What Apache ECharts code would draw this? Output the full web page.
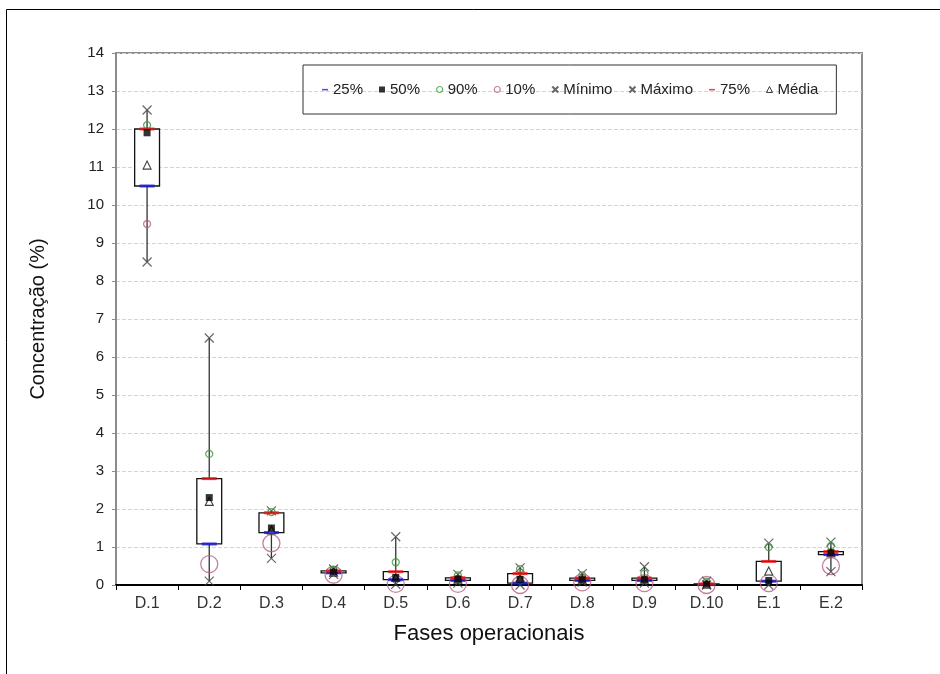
<!DOCTYPE html>
<html>
<head>
<meta charset="utf-8">
<title>Concentração por fase operacional</title>
<script src="https://cdn.jsdelivr.net/npm/echarts@6/dist/echarts.min.js"></script>
<style>
  html, body { margin: 0; padding: 0; background: #ffffff; }
  #chart { width: 940px; height: 674px; }
</style>
</head>
<body>
<div id="chart"></div>
<script>
// categorias (fases) e estatísticas
const categories = ['D.1', 'D.2', 'D.3', 'D.4', 'D.5', 'D.6', 'D.7', 'D.8', 'D.9', 'D.10', 'E.1', 'E.2'];
const minimo = [8.5, 0.1, 0.7, 0.28, 0.02, 0.05, 0.0, 0.08, 0.05, 0.0, 0.0, 0.35];
const p10 = [9.5, 0.55, 1.1, 0.27, 0.03, 0.03, 0.0, 0.07, 0.05, 0.0, 0.05, 0.5];
const p25 = [10.5, 1.08, 1.38, 0.32, 0.14, 0.12, 0.05, 0.12, 0.12, 0.01, 0.1, 0.8];
const p50 = [11.9, 2.3, 1.5, 0.34, 0.2, 0.15, 0.15, 0.14, 0.14, 0.02, 0.12, 0.85];
const p75 = [12.0, 2.8, 1.9, 0.37, 0.35, 0.19, 0.3, 0.18, 0.18, 0.03, 0.62, 0.88];
const p90 = [12.1, 3.45, 1.92, 0.4, 0.6, 0.25, 0.42, 0.25, 0.3, 0.08, 1.0, 1.03];
const maximo = [12.5, 6.5, 1.95, 0.42, 1.27, 0.28, 0.45, 0.3, 0.48, 0.1, 1.1, 1.13];
const media = [11.05, 2.2, 1.45, 0.34, 0.2, 0.15, 0.17, 0.15, 0.15, 0.02, 0.37, 0.85];
const yTicks = { min: 0, max: 14, interval: 1 };

const chart = echarts.init(document.getElementById('chart'));

// caixa (25%-75%) + linha mínimo-máximo
const boxData = categories.map((c, i) => [i, minimo[i], p25[i], p75[i], maximo[i]]);

const FONT = '"Liberation Sans", Arial, sans-serif';
const crossPath = 'path://M0,0L10,10M10,0L0,10';
const dashIcon = 'path://M0,0M10,10M0,4L10,4L10,6.5L0,6.5Z';

const pink = '#b8608c';
const green = '#3c9c3c';

function marker(name, data, symbol, size, style) {
  return {
    name: name,
    type: 'scatter',
    data: data,
    symbol: symbol,
    symbolSize: size,
    itemStyle: style,
    z: 5,
    emphasis: { disabled: true }
  };
}

const option = {
  animation: false,
  backgroundColor: '#ffffff',
  textStyle: { fontFamily: FONT },
  graphic: [{
    type: 'rect',
    shape: { x: 6.5, y: 9.5, width: 1000, height: 1000 },
    style: { fill: 'none', stroke: '#000000', lineWidth: 1 },
    silent: true
  }],
  legend: {
    left: 303,
    top: 65,
    padding: [17, 18, 17, 19],
    itemGap: 16,
    itemWidth: 6,
    itemHeight: 6,
    borderColor: '#333333',
    borderWidth: 1,
    textStyle: { fontSize: 15, color: '#222222', fontFamily: FONT },
    data: [
      { name: '25%', icon: dashIcon },
      { name: '50%', icon: 'rect' },
      { name: '90%', icon: 'circle', itemStyle: { color: 'rgba(0,0,0,0)', borderColor: green, borderWidth: 1.2 } },
      { name: '10%', icon: 'circle', itemStyle: { color: 'rgba(0,0,0,0)', borderColor: pink, borderWidth: 1.2 } },
      { name: 'Mínimo', icon: crossPath },
      { name: 'Máximo', icon: crossPath },
      { name: '75%', icon: dashIcon },
      { name: 'Média', icon: 'triangle', itemStyle: { color: 'rgba(0,0,0,0)', borderColor: '#111111', borderWidth: 1 } }
    ]
  },
  grid: {
    left: 116,
    right: 78,
    top: 53,
    bottom: 89,
    show: true,
    borderColor: '#8c8c8c',
    borderWidth: 2
  },
  xAxis: {
    type: 'category',
    data: categories,
    name: 'Fases operacionais',
    nameLocation: 'middle',
    nameGap: 38,
    nameTextStyle: { fontSize: 22, color: '#111111', fontFamily: FONT },
    axisLine: { lineStyle: { color: '#000000', width: 2 } },
    axisTick: { show: true, length: 5, lineStyle: { color: '#000000' } },
    axisLabel: { fontSize: 16, color: '#333333', margin: 11 },
    splitLine: { show: false }
  },
  yAxis: {
    type: 'value',
    min: yTicks.min,
    max: yTicks.max,
    interval: yTicks.interval,
    name: 'Concentração (%)',
    nameLocation: 'middle',
    nameGap: 68,
    nameTextStyle: { fontSize: 20, color: '#111111', fontFamily: FONT },
    axisLine: { show: true, lineStyle: { color: '#8c8c8c', width: 2 } },
    axisTick: { show: true, length: 4, lineStyle: { color: '#8c8c8c' } },
    axisLabel: { fontSize: 15, color: '#222222', margin: 12 },
    splitLine: { lineStyle: { color: '#d4d4d4', type: [4, 2], width: 1 } }
  },
  series: [
    {
      name: 'caixa',
      type: 'custom',
      data: boxData,
      z: 2,
      renderItem: function (params, api) {
        const x = api.value(0);
        const pMin = api.coord([x, api.value(1)]);
        const pQ1 = api.coord([x, api.value(2)]);
        const pQ3 = api.coord([x, api.value(3)]);
        const pMax = api.coord([x, api.value(4)]);
        const w = api.size([1, 0])[0] * 0.4;
        return {
          type: 'group',
          children: [
            {
              type: 'line',
              shape: { x1: pMin[0], y1: pMin[1], x2: pMax[0], y2: pMax[1] },
              style: { stroke: '#333333', lineWidth: 1.3 }
            },
            {
              type: 'rect',
              shape: { x: pQ3[0] - w / 2, y: pQ3[1], width: w, height: pQ1[1] - pQ3[1] },
              style: { fill: '#ffffff', stroke: '#111111', lineWidth: 1.3 }
            }
          ]
        };
      }
    },
    marker('10%', p10, 'circle', function (v, p) { return p.dataIndex === 0 ? 7 : 17; },
      { color: 'rgba(0,0,0,0)', borderColor: pink, borderWidth: 1.3 }),
    marker('Mínimo', minimo, crossPath, 9,
      { color: 'rgba(0,0,0,0)', borderColor: '#444444', borderWidth: 1.2 }),
    marker('Máximo', maximo, crossPath, 9,
      { color: 'rgba(0,0,0,0)', borderColor: '#444444', borderWidth: 1.2 }),
    marker('90%', p90, 'circle', 7,
      { color: 'rgba(0,0,0,0)', borderColor: green, borderWidth: 1.3 }),
    marker('Média', media, 'triangle', 8,
      { color: '#ffffff', borderColor: '#111111', borderWidth: 1.1 }),
    marker('25%', p25, 'rect', [15, 3], { color: '#1a1adc' }),
    marker('75%', p75, 'rect', [15, 3], { color: '#ee1111' }),
    marker('50%', p50, 'rect', 7, { color: '#000000' })
  ]
};

chart.setOption(option);
</script>
</body>
</html>
